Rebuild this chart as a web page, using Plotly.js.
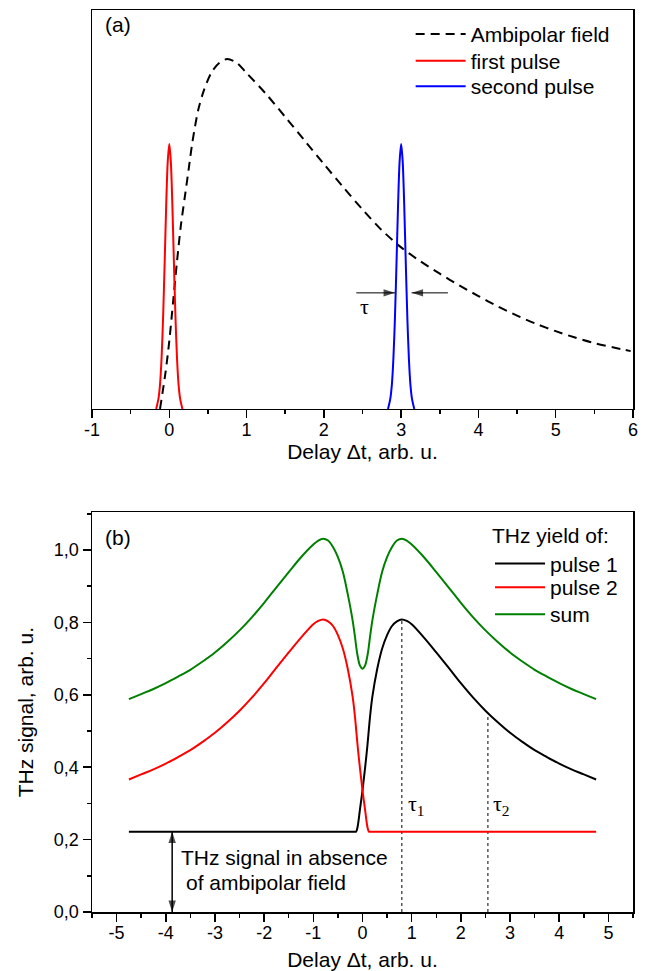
<!DOCTYPE html>
<html>
<head>
<meta charset="utf-8">
<script src="https://cdn.plot.ly/plotly-3.0.1.min.js"></script>
<style>
html,body{margin:0;padding:0;background:#fff;}
#chart{width:651px;height:971px;}
</style>
</head>
<body>
<div id="chart"></div>
<script>
// ---------- Panel (a) data ----------
const ambipolarX = [-0.12, -0.05, 0, 0.05, 0.1, 0.15, 0.2, 0.25, 0.3, 0.375, 0.45, 0.55, 0.65, 0.75, 0.87, 1.0, 1.25, 1.5, 1.75, 2.0, 2.25, 2.5, 2.75, 3.0, 3.25, 3.5, 3.75, 4.0, 4.25, 4.5, 4.75, 5.0, 5.25, 5.5, 5.75, 5.97];
const ambipolarY = [0, 0.09, 0.17, 0.27, 0.37, 0.46, 0.53, 0.6, 0.67, 0.75, 0.80, 0.845, 0.868, 0.877, 0.868, 0.842, 0.79, 0.732, 0.673, 0.614, 0.556, 0.5, 0.448, 0.405, 0.37, 0.339, 0.31, 0.283, 0.257, 0.234, 0.213, 0.195, 0.179, 0.165, 0.154, 0.145];

const firstPulseX = [-0.17, -0.14, -0.12, -0.1, -0.08, -0.06, -0.04, -0.02, 0, 0.02, 0.04, 0.06, 0.08, 0.1, 0.12, 0.14, 0.17];
const firstPulseY = [0, 0.026, 0.061, 0.127, 0.23, 0.366, 0.51, 0.62, 0.664, 0.62, 0.51, 0.366, 0.23, 0.127, 0.061, 0.026, 0];

const secondPulseX = [2.83, 2.86, 2.88, 2.9, 2.92, 2.94, 2.96, 2.98, 3, 3.02, 3.04, 3.06, 3.08, 3.1, 3.12, 3.14, 3.17];
const secondPulseY = [0, 0.026, 0.061, 0.127, 0.23, 0.366, 0.51, 0.62, 0.664, 0.62, 0.51, 0.366, 0.23, 0.127, 0.061, 0.026, 0];

// pulse-width (tau) marker arrows in panel (a)
const tauLeftArrowX = [2.42, 2.92];
const tauRightArrowX = [3.605, 3.136];
const tauArrowY = [0.291, 0.291];

const topTickVals = [-1, 0, 1, 2, 3, 4, 5, 6];
const topTickText = ['-1', '0', '1', '2', '3', '4', '5', '6'];

// ---------- Panel (b) data ----------
const delayB = [-4.75, -4.5, -4.25, -4.0, -3.75, -3.5, -3.25, -3.0, -2.75, -2.5, -2.25, -2.0, -1.75, -1.5, -1.25, -1.0, -0.9, -0.8, -0.7, -0.6, -0.5, -0.4, -0.3, -0.2, -0.15, -0.13, -0.1, -0.05, 0, 0.05, 0.1, 0.13, 0.15, 0.2, 0.3, 0.4, 0.5, 0.6, 0.7, 0.8, 0.9, 1.0, 1.25, 1.5, 1.75, 2.0, 2.25, 2.5, 2.75, 3.0, 3.25, 3.5, 3.75, 4.0, 4.25, 4.5, 4.75];
const yieldPulse1 = [0.222, 0.222, 0.222, 0.222, 0.222, 0.222, 0.222, 0.222, 0.222, 0.222, 0.222, 0.222, 0.222, 0.222, 0.222, 0.222, 0.222, 0.222, 0.222, 0.222, 0.222, 0.222, 0.222, 0.222, 0.222, 0.222, 0.235, 0.285, 0.336, 0.395, 0.46, 0.505, 0.535, 0.594, 0.672, 0.728, 0.765, 0.79, 0.803, 0.808, 0.804, 0.795, 0.758, 0.717, 0.675, 0.632, 0.592, 0.556, 0.524, 0.495, 0.47, 0.447, 0.428, 0.41, 0.394, 0.38, 0.366];
const yieldPulse2 = [0.366, 0.38, 0.394, 0.41, 0.428, 0.447, 0.47, 0.495, 0.524, 0.556, 0.592, 0.632, 0.675, 0.717, 0.758, 0.795, 0.804, 0.808, 0.803, 0.79, 0.765, 0.728, 0.672, 0.594, 0.535, 0.505, 0.46, 0.395, 0.336, 0.285, 0.235, 0.222, 0.222, 0.222, 0.222, 0.222, 0.222, 0.222, 0.222, 0.222, 0.222, 0.222, 0.222, 0.222, 0.222, 0.222, 0.222, 0.222, 0.222, 0.222, 0.222, 0.222, 0.222, 0.222, 0.222, 0.222, 0.222];
const yieldSum = [0.588, 0.602, 0.616, 0.632, 0.65, 0.669, 0.692, 0.717, 0.746, 0.778, 0.814, 0.854, 0.897, 0.939, 0.98, 1.015, 1.026, 1.031, 1.026, 1.008, 0.98, 0.94, 0.878, 0.805, 0.757, 0.735, 0.708, 0.68, 0.672, 0.68, 0.708, 0.735, 0.757, 0.805, 0.878, 0.94, 0.98, 1.008, 1.026, 1.031, 1.026, 1.015, 0.98, 0.939, 0.897, 0.854, 0.814, 0.778, 0.746, 0.717, 0.692, 0.669, 0.65, 0.632, 0.616, 0.602, 0.588];

const tau1X = [0.8, 0.8];
const tau1Y = [0, 0.808];
const tau2X = [2.55, 2.55];
const tau2Y = [0, 0.55];

// double arrow marking the baseline THz signal
const baselineArrowX = [-3.87, -3.87];
const baselineArrowY = [0.222, 0];

const bottomTickVals = [-5, -4, -3, -2, -1, 0, 1, 2, 3, 4, 5];
const bottomTickText = ['-5', '-4', '-3', '-2', '-1', '0', '1', '2', '3', '4', '5'];
const yTickVals = [0, 0.2, 0.4, 0.6, 0.8, 1.0];
const yTickText = ['0,0', '0,2', '0,4', '0,6', '0,8', '1,0'];

// ---------- traces ----------
const SANS = 'Liberation Sans, Arial, sans-serif';
const SERIF = 'Liberation Serif, Times New Roman, serif';

const traces = [
  {x: ambipolarX, y: ambipolarY, xaxis: 'x2', yaxis: 'y2', mode: 'lines', name: 'Ambipolar field',
   line: {color: '#000', width: 2, dash: '9px,6px', shape: 'spline', smoothing: 0.8}, legend: 'legend'},
  {x: firstPulseX, y: firstPulseY, xaxis: 'x2', yaxis: 'y2', mode: 'lines', name: 'first pulse',
   line: {color: '#ff0000', width: 2, shape: 'spline', smoothing: 0.8}, legend: 'legend3'},
  {x: secondPulseX, y: secondPulseY, xaxis: 'x2', yaxis: 'y2', mode: 'lines', name: 'second pulse',
   line: {color: '#0000ff', width: 2, shape: 'spline', smoothing: 0.8}, legend: 'legend4'},

  {x: tauLeftArrowX, y: tauArrowY, xaxis: 'x2', yaxis: 'y2', mode: 'lines+markers', showlegend: false, hoverinfo: 'skip',
   line: {color: '#000', width: 1},
   marker: {symbol: ['circle', 'arrow'], size: [0, 12], angle: [90, 90], color: '#000', line: {width: 0}}},
  {x: tauRightArrowX, y: tauArrowY, xaxis: 'x2', yaxis: 'y2', mode: 'lines+markers', showlegend: false, hoverinfo: 'skip',
   line: {color: '#000', width: 1},
   marker: {symbol: ['circle', 'arrow'], size: [0, 12], angle: [-90, -90], color: '#000', line: {width: 0}}},

  {x: tau1X, y: tau1Y, xaxis: 'x', yaxis: 'y', mode: 'lines', showlegend: false, hoverinfo: 'skip',
   line: {color: '#000', width: 1, dash: '3px,3px'}},
  {x: tau2X, y: tau2Y, xaxis: 'x', yaxis: 'y', mode: 'lines', showlegend: false, hoverinfo: 'skip',
   line: {color: '#000', width: 1, dash: '3px,3px'}},

  {x: delayB, y: yieldPulse1, xaxis: 'x', yaxis: 'y', mode: 'lines', name: 'pulse 1',
   line: {color: '#000', width: 2, shape: 'spline', smoothing: 1}, legend: 'legend2'},
  {x: delayB, y: yieldPulse2, xaxis: 'x', yaxis: 'y', mode: 'lines', name: 'pulse 2',
   line: {color: '#ff0000', width: 2, shape: 'spline', smoothing: 1}, legend: 'legend5'},
  {x: delayB, y: yieldSum, xaxis: 'x', yaxis: 'y', mode: 'lines', name: 'sum',
   line: {color: '#008000', width: 2, shape: 'spline', smoothing: 1}, legend: 'legend6'},

  {x: baselineArrowX, y: baselineArrowY, xaxis: 'x', yaxis: 'y', mode: 'lines+markers', showlegend: false, hoverinfo: 'skip',
   line: {color: '#000', width: 1.5},
   marker: {symbol: ['arrow', 'arrow'], size: [12, 12], angle: [0, 180], color: '#000', line: {width: 0}}}
];

const axisCommon = {
  showline: true, mirror: true, linecolor: '#000', linewidth: 1.5,
  showgrid: false, zeroline: false,
  ticks: 'outside', ticklen: 8, tickwidth: 1.5, tickcolor: '#000',
  tickfont: {family: SANS, size: 18, color: '#000'}
};

const legendFont = {family: SANS, size: 21, color: '#000'};
function mkLegend(x, y, extra) {
  return Object.assign({
    x: x, xanchor: 'left', y: y, yanchor: 'top',
    bgcolor: 'rgba(0,0,0,0)', borderwidth: 0, itemwidth: 50,
    font: legendFont, tracegroupgap: 0
  }, extra || {});
}

const layout = {
  width: 651, height: 971,
  margin: {l: 92, r: 18, t: 10, b: 59},
  paper_bgcolor: '#fff', plot_bgcolor: '#fff',
  font: {family: SANS, color: '#000'},
  showlegend: true,
  xaxis: Object.assign({}, axisCommon, {
    domain: [0, 1], anchor: 'y', range: [-5.5, 5.5],
    tickmode: 'array', tickvals: bottomTickVals, ticktext: bottomTickText,
    ticklabelstandoff: -4,
    minor: {ticks: 'outside', ticklen: 4, tickwidth: 1.5, tickcolor: '#000', dtick: 0.5, tick0: 0},
    title: {text: 'Delay \u0394t, arb. u.', font: {family: SANS, size: 21, color: '#000'}, standoff: 14}
  }),
  yaxis: Object.assign({}, axisCommon, {
    domain: [0, 0.4431], anchor: 'x', range: [0, 1.104],
    tickmode: 'array', tickvals: yTickVals, ticktext: yTickText,
    minor: {ticks: 'outside', ticklen: 4, tickwidth: 1.5, tickcolor: '#000', dtick: 0.1, tick0: 0},
    title: {text: 'THz signal, arb. u.', font: {family: SANS, size: 21, color: '#000'}, standoff: 14}
  }),
  xaxis2: Object.assign({}, axisCommon, {
    domain: [0, 1], anchor: 'y2', range: [-1, 6],
    tickmode: 'array', tickvals: topTickVals, ticktext: topTickText,
    ticklabelstandoff: -4,
    minor: {ticks: 'outside', ticklen: 4, tickwidth: 1.5, tickcolor: '#000', dtick: 0.5, tick0: 0},
    title: {text: 'Delay \u0394t, arb. u.', font: {family: SANS, size: 21, color: '#000'}, standoff: 4}
  }),
  yaxis2: {
    domain: [0.5577, 1], anchor: 'x2', range: [0, 1],
    showline: true, mirror: true, linecolor: '#000', linewidth: 1.5,
    showgrid: false, zeroline: false, ticks: '', showticklabels: false
  },
  legend: mkLegend(0.589, 0.9956),
  legend3: mkLegend(0.589, 0.9660),
  legend4: mkLegend(0.589, 0.9379),
  legend2: mkLegend(0.7357, 0.4390, {title: {text: 'THz yield of:', font: legendFont}}),
  legend5: mkLegend(0.7357, 0.3825),
  legend6: mkLegend(0.7357, 0.3525),
  annotations: [
    {xref: 'paper', yref: 'paper', x: 0.0203, y: 0.9834, xanchor: 'left', yanchor: 'middle',
     text: '(a)', showarrow: false, font: {family: SANS, size: 21, color: '#000'}},
    {xref: 'paper', yref: 'paper', x: 0.0203, y: 0.4150, xanchor: 'left', yanchor: 'middle',
     text: '(b)', showarrow: false, font: {family: SANS, size: 21, color: '#000'}},
    {xref: 'x2', yref: 'y2', x: 2.53, y: 0.256, xanchor: 'center', yanchor: 'middle',
     text: '\u03c4', showarrow: false, font: {family: SERIF, size: 22, color: '#000'}},
    {xref: 'x', yref: 'y', x: 0.88, y: 0.295, xanchor: 'left', yanchor: 'middle',
     text: '\u03c4<sub>1</sub>', showarrow: false, font: {family: SERIF, size: 22, color: '#000'}},
    {xref: 'x', yref: 'y', x: 2.61, y: 0.295, xanchor: 'left', yanchor: 'middle',
     text: '\u03c4<sub>2</sub>', showarrow: false, font: {family: SERIF, size: 22, color: '#000'}},
    {xref: 'x', yref: 'y', x: -3.73, y: 0.15, xanchor: 'left', yanchor: 'middle',
     text: 'THz signal in absence', showarrow: false, font: {family: SANS, size: 21, color: '#000'}},
    {xref: 'x', yref: 'y', x: -3.63, y: 0.081, xanchor: 'left', yanchor: 'middle',
     text: 'of ambipolar field', showarrow: false, font: {family: SANS, size: 21, color: '#000'}}
  ]
};

Plotly.newPlot('chart', traces, layout, {displayModeBar: false, staticPlot: true});
</script>
</body>
</html>
